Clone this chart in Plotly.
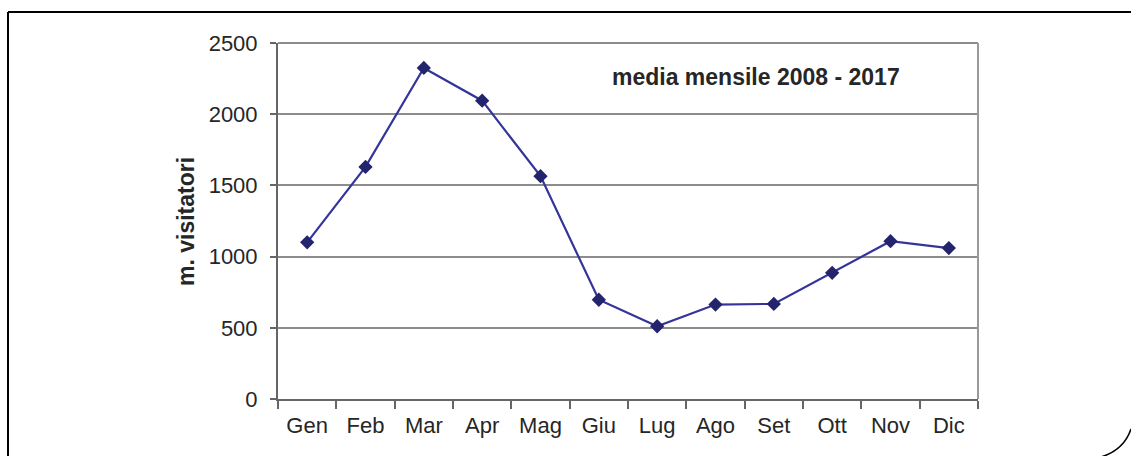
import plotly.graph_objects as go

# Monthly average visitors (thousands), 2008 - 2017
months = ["Gen", "Feb", "Mar", "Apr", "Mag", "Giu", "Lug", "Ago", "Set", "Ott", "Nov", "Dic"]
visitors = [1100, 1630, 2325, 2095, 1565, 697, 511, 663, 668, 886, 1108, 1060]
y_ticks = [0, 500, 1000, 1500, 2000, 2500]

W, H = 1131, 456
L, R, T, B = 278, 153, 43, 57
PW, PH = W - L - R, H - T - B


def px(x):
    """Pixel x -> paper x."""
    return (x - L) / PW


def py(y):
    """Pixel y (from top) -> paper y."""
    return (H - B - y) / PH


FONT = "Liberation Sans, Arial, sans-serif"
TXT = "#262626"

fig = go.Figure()
fig.add_trace(go.Scatter(
    x=months, y=visitors, mode="lines+markers",
    line=dict(color="#34349a", width=2.2),
    marker=dict(symbol="diamond", size=11, color="#23236e",
                line=dict(width=0)),
    showlegend=False, cliponaxis=False,
))

fig.update_layout(
    width=W, height=H,
    margin=dict(l=L, r=R, t=T, b=B, pad=0),
    paper_bgcolor="white", plot_bgcolor="white",
    font=dict(family=FONT, size=22, color=TXT),
    xaxis=dict(
        type="category", range=[-0.5, 11.5],
        tickson="boundaries", ticks="outside", ticklen=8, tickwidth=2,
        tickcolor="#666666", showline=True, linecolor="#666666", linewidth=2,
        showgrid=False, zeroline=False, ticklabelstandoff=6,
        tickfont=dict(size=22, color=TXT),
    ),
    yaxis=dict(
        range=[0, 2500], tickvals=y_ticks, ticks="outside", ticklen=6,
        tickwidth=2, tickcolor="#666666", showline=True, linecolor="#666666",
        linewidth=2, showgrid=True, gridcolor="#8c8c8c", gridwidth=1.6,
        zeroline=False, ticklabelstandoff=8,
        tickfont=dict(size=22, color=TXT),
    ),
)

# right and top edges of the plotting area
fig.add_shape(type="line", xref="paper", yref="paper", x0=1, x1=1, y0=0, y1=1,
              line=dict(color="#9a9a9a", width=2), layer="above")
fig.add_shape(type="line", xref="paper", yref="paper", x0=0, x1=1, y0=1, y1=1,
              line=dict(color="#8c8c8c", width=1.8), layer="below")

# y-axis title
fig.add_annotation(text="<b>m. visitatori</b>", xref="paper", yref="paper",
                   x=px(186), y=py(222), textangle=-90, showarrow=False,
                   xanchor="center", yanchor="middle",
                   font=dict(size=23, color=TXT))

# caption inside the plot
fig.add_annotation(text="<b>media mensile 2008 - 2017</b>", xref="paper", yref="paper",
                   x=px(756), y=py(77), showarrow=False,
                   xanchor="center", yanchor="middle",
                   font=dict(size=23, color=TXT))

# outer frame: top and left edges, rounded corner at bottom right
fig.add_shape(type="line", xref="paper", yref="paper",
              x0=px(8), x1=px(1131), y0=py(12), y1=py(12),
              line=dict(color="black", width=2))
fig.add_shape(type="line", xref="paper", yref="paper",
              x0=px(8), x1=px(8), y0=py(12), y1=py(456),
              line=dict(color="black", width=2))
fig.add_shape(type="path", xref="paper", yref="paper",
              path=f"M {px(1131)},{py(429)} Q {px(1124)},{py(450)} {px(1101)},{py(457)}",
              line=dict(color="black", width=1.6))

fig.write_html("out.html")
